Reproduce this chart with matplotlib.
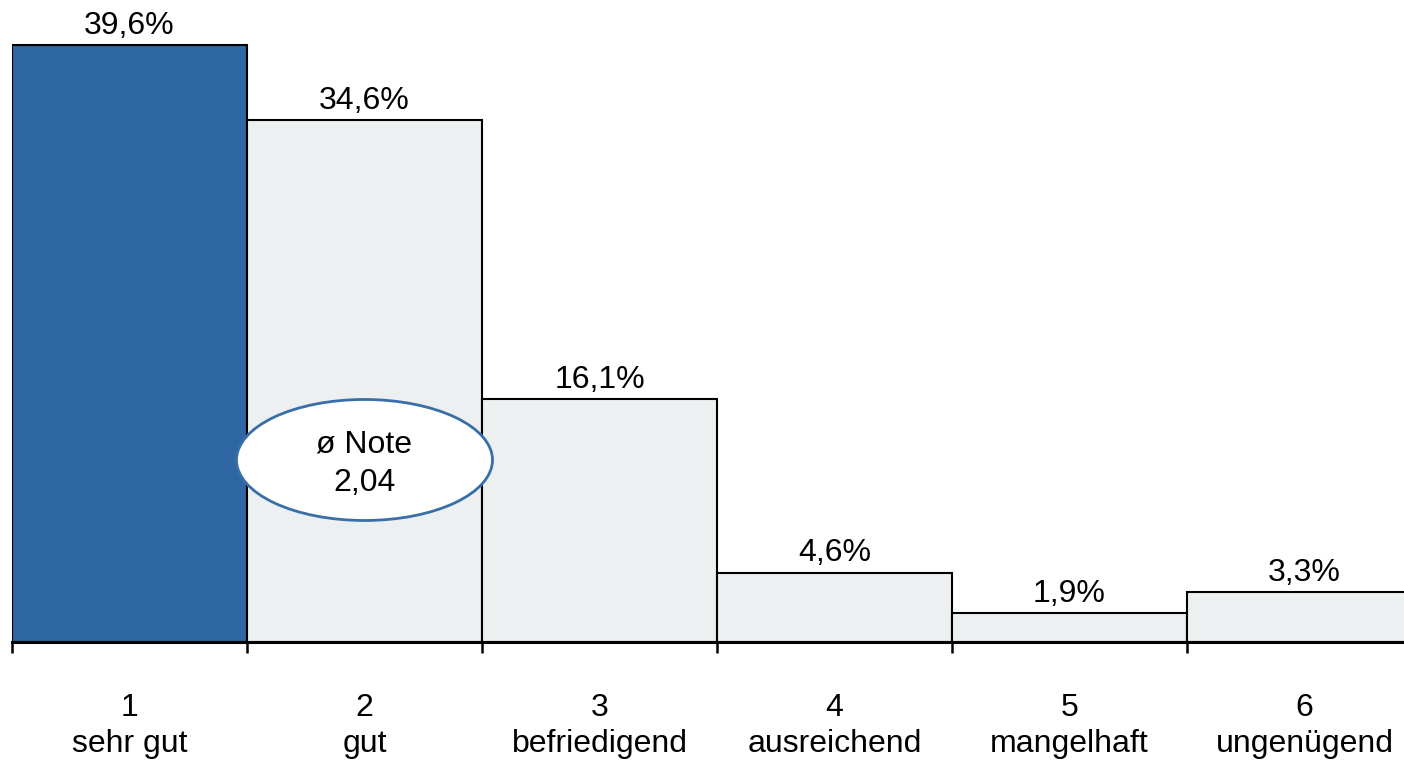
import matplotlib
matplotlib.use("Agg")
import matplotlib.pyplot as plt
from matplotlib.patches import Ellipse

# Grade distribution (German school grades)
grades = ["1", "2", "3", "4", "5", "6"]
grade_names = ["sehr gut", "gut", "befriedigend", "ausreichend", "mangelhaft", "ungenügend"]
shares = [39.6, 34.6, 16.1, 4.6, 1.9, 3.3]
mean_grade_label = "2,04"

plt.rcParams["font.family"] = ["Liberation Sans", "DejaVu Sans"]

fig = plt.figure(figsize=(14.04, 7.61), dpi=100)
W, H = 1404, 761
ax = fig.add_axes([12 / W, 119 / H, (W - 12) / W, 642 / H])

dark = "#2E67A3"
light = "#EDF0F1"
colors = [dark] + [light] * (len(shares) - 1)
fs = 23

x = list(range(len(shares)))
ax.bar(x, shares, width=1.0, align="edge", color=colors,
       edgecolor="black", linewidth=1.5)

for xi, v in zip(x, shares):
    ax.annotate(f"{v:.1f}%".replace(".", ","), xy=(xi + 0.5, v),
                xytext=(0, 3), textcoords="offset points",
                ha="center", va="bottom", fontsize=fs, color="black")

# Axis: only a bottom line with ticks at the bar boundaries
for s in ("top", "right", "left"):
    ax.spines[s].set_visible(False)
ax.spines["bottom"].set_linewidth(2.2)
ax.set_yticks([])
ax.set_xticks(range(len(shares) + 1))
ax.set_xticklabels([])
ax.tick_params(axis="x", which="major", length=8, width=1.8, direction="out")
ax.set_xticks([xi + 0.5 for xi in x], minor=True)
ax.set_xticklabels([f"{g}\n{n}" for g, n in zip(grades, grade_names)],
                   minor=True, fontsize=fs, linespacing=1.25)
ax.tick_params(axis="x", which="minor", length=0, pad=37)

ax.set_xlim(0, (W - 12) / 235)
ax.set_ylim(0, 642 / 15.08)

# Average grade callout
ell = Ellipse((1.5, 12.07), width=256 / 235, height=121 / 15.08,
              facecolor="white", edgecolor="#3A6EA8", linewidth=2, zorder=5)
ax.add_patch(ell)
ax.text(1.5, 11.8, f"ø Note\n{mean_grade_label}", ha="center", va="center",
        fontsize=fs, linespacing=1.38, zorder=6)

fig.savefig("out.png", dpi=100)
